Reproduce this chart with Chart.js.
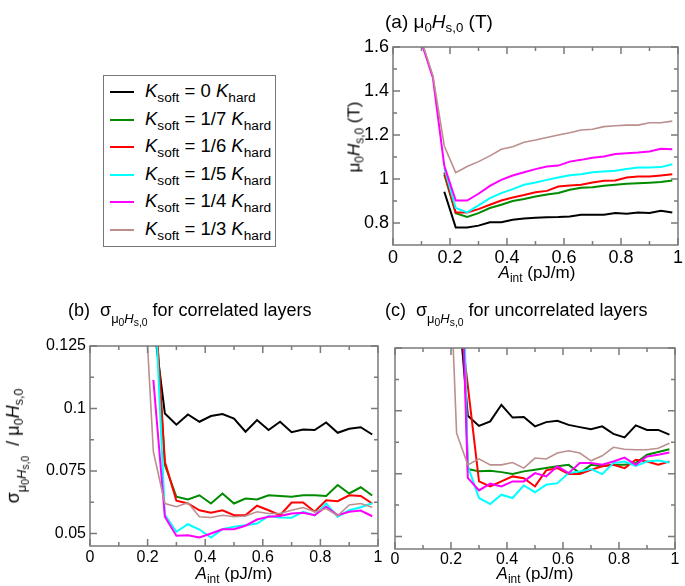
<!DOCTYPE html>
<html>
<head>
<meta charset="utf-8">
<script src="https://cdn.jsdelivr.net/npm/chart.js@4.4.1/dist/chart.umd.min.js"></script>
<style>
    body { margin: 0; background: #fff; font-family: "Liberation Sans", Arial, sans-serif; color: #000; }
    #page { position: relative; width: 685px; height: 586px; overflow: hidden; }
    .panel { position: absolute; }
    .txt { position: absolute; white-space: nowrap; line-height: 1; }
    sub { font-size: 0.7em; vertical-align: -0.3em; line-height: 0; }
    .ssub { font-size: 0.72em; vertical-align: -0.55em; line-height: 0; }
    .ssub sub { font-size: 0.8em; }
    .rot { transform: translate(-50%, -50%) rotate(-90deg); }
    #legend { position: absolute; left: 103px; top: 75px; width: 171px; height: 170px; border: 1px solid #777; }
    .row { position: absolute; left: 0; height: 20px; font-size: 18.5px; white-space: nowrap; }
    .row sub { font-size: 0.74em; vertical-align: -0.4em; }
    .row .swatch { position: absolute; left: 6px; top: 9px; width: 24px; height: 2px; }
    .row .lab { position: absolute; left: 41px; top: 0px; line-height: 1; }
</style>
</head>
<body>
<div id="page">
    <canvas id="chartA" class="panel" width="355" height="300" style="left:330px;top:0px"></canvas>
    <canvas id="chartB" class="panel" width="385" height="266" style="left:0px;top:320px"></canvas>
    <canvas id="chartC" class="panel" width="300" height="266" style="left:385px;top:320px"></canvas>

    <div class="txt" style="left:385px;top:12px;font-size:19px">(a) μ<sub>0</sub><i>H</i><sub>s,0</sub> (T)</div>
    <div class="txt" style="left:68px;top:301px;font-size:18px">(b)&nbsp; σ<span class="ssub">μ<sub>0</sub><i>H</i><sub>s,0</sub></span> for correlated layers</div>
    <div class="txt" style="left:385px;top:301px;font-size:18px">(c)&nbsp; σ<span class="ssub">μ<sub>0</sub><i>H</i><sub>s,0</sub></span> for uncorrelated layers</div>

    <div class="txt rot" style="left:354px;top:137px;font-size:17px">μ<sub>0</sub><i>H</i><sub>s,0</sub> (T)</div>
    <div class="txt rot" style="left:15px;top:446px;font-size:18px">σ<span class="ssub">μ<sub>0</sub><i>H</i><sub>s,0</sub></span>&nbsp; / μ<sub>0</sub><i>H</i><sub>s,0</sub></div>

    <div class="txt" style="left:537px;top:264px;font-size:17px;transform:translateX(-50%)"><i>A</i><sub>int</sub> (pJ/m)</div>
    <div class="txt" style="left:234px;top:565px;font-size:17px;transform:translateX(-50%)"><i>A</i><sub>int</sub> (pJ/m)</div>
    <div class="txt" style="left:535px;top:565px;font-size:17px;transform:translateX(-50%)"><i>A</i><sub>int</sub> (pJ/m)</div>

    <div id="legend"></div>
</div>

<script>
// series (same order in every panel)
const seriesFractions = ['0', '1/7', '1/6', '1/5', '1/4', '1/3'];
const seriesColors = ['#000000', '#008b00', '#ff0000', '#00ffff', '#ff00ff', '#bc8f8f'];

// panel (a): mu0 Hs,0 (T)
const xA = [0.10, 0.14, 0.18, 0.22, 0.26, 0.30, 0.34, 0.38, 0.42, 0.46, 0.50, 0.54,
            0.58, 0.62, 0.66, 0.70, 0.74, 0.78, 0.82, 0.86, 0.90, 0.94, 0.98];
const aBlack = [null, null, 0.942, 0.780, 0.780, 0.788, 0.803, 0.803, 0.815, 0.820, 0.824, 0.826,
                0.827, 0.830, 0.838, 0.838, 0.838, 0.845, 0.842, 0.848, 0.845, 0.856, 0.848];
const aGreen = [null, null, 1.02, 0.845, 0.827, 0.845, 0.868, 0.883, 0.900, 0.909, 0.920, 0.930,
                0.936, 0.951, 0.960, 0.963, 0.969, 0.974, 0.978, 0.981, 0.983, 0.986, 0.993];
const aRed = [null, null, 1.03, 0.848, 0.848, 0.863, 0.883, 0.902, 0.916, 0.927, 0.940, 0.946,
              0.966, 0.970, 0.974, 0.984, 0.992, 0.993, 1.007, 1.011, 1.011, 1.016, 1.022];
const aCyan = [null, null, 1.05, 0.868, 0.848, 0.880, 0.913, 0.936, 0.954, 0.974, 0.984, 0.996,
               1.007, 1.017, 1.022, 1.031, 1.034, 1.038, 1.045, 1.052, 1.052, 1.054, 1.067];
const aMagenta = [1.62, 1.46, 1.06, 0.902, 0.902, 0.933, 0.969, 0.996, 1.016, 1.031, 1.045, 1.057,
                  1.061, 1.079, 1.087, 1.097, 1.102, 1.114, 1.117, 1.120, 1.125, 1.137, 1.135];
const aBrown = [1.63, 1.47, 1.15, 1.029, 1.057, 1.079, 1.105, 1.135, 1.147, 1.167, 1.177, 1.189,
                1.200, 1.210, 1.223, 1.226, 1.238, 1.242, 1.245, 1.245, 1.256, 1.256, 1.263];

// panels (b) and (c): sigma / mu0 Hs,0
const xBC = [0.18, 0.22, 0.26, 0.30, 0.34, 0.38, 0.42, 0.46, 0.50, 0.54, 0.58,
             0.62, 0.66, 0.70, 0.74, 0.78, 0.82, 0.86, 0.90, 0.94, 0.98];
const bBlack = [null, 0.135, 0.098, 0.0935, 0.0976, 0.0947, 0.0970, 0.0978, 0.0960, 0.0907, 0.0954,
                0.0914, 0.0947, 0.0905, 0.0916, 0.0914, 0.0944, 0.0903, 0.0919, 0.0925, 0.0896];
const bGreen = [null, 0.153, 0.0774, 0.0647, 0.0636, 0.0653, 0.0620, 0.0660, 0.0620, 0.0640, 0.0636,
                0.0653, 0.0650, 0.0647, 0.0653, 0.0653, 0.0650, 0.0694, 0.0660, 0.0685, 0.0652];
const bRed = [null, 0.153, 0.0787, 0.0631, 0.0620, 0.0593, 0.0583, 0.0593, 0.0573, 0.0573, 0.0611,
              0.0593, 0.0573, 0.0624, 0.0624, 0.0587, 0.0633, 0.0629, 0.0653, 0.0650, 0.0620];
const bCyan = [null, 0.157, 0.0575, 0.0507, 0.0537, 0.0516, 0.0484, 0.0517, 0.0527, 0.0533, 0.0540,
               0.0570, 0.0564, 0.0563, 0.0587, 0.0573, 0.0620, 0.0567, 0.0593, 0.0605, 0.0621];
const bMagenta = [null, 0.1114, 0.0567, 0.0491, 0.0493, 0.0484, 0.0500, 0.0517, 0.0517, 0.0531, 0.0556,
                  0.0567, 0.0570, 0.0580, 0.0583, 0.0573, 0.0607, 0.0573, 0.0587, 0.0592, 0.0569];
const bBrown = [0.167, 0.0827, 0.0620, 0.0607, 0.0623, 0.0567, 0.0564, 0.0573, 0.0567, 0.0570, 0.0587,
                0.0580, 0.0580, 0.0593, 0.0604, 0.0587, 0.0600, 0.0571, 0.0614, 0.0620, 0.0605];

const cBlack = [null, 0.152, 0.098, 0.0940, 0.0958, 0.1024, 0.0973, 0.0975, 0.0938, 0.0955, 0.0960,
                0.0944, 0.0935, 0.0927, 0.0938, 0.0908, 0.0894, 0.0942, 0.0924, 0.0924, 0.0905];
const cGreen = [null, 0.237, 0.0768, 0.0759, 0.0761, 0.0756, 0.0749, 0.0759, 0.0765, 0.0772, 0.0779,
                0.0785, 0.0752, 0.0785, 0.0779, 0.0785, 0.0785, 0.0792, 0.0825, 0.0836, 0.0847];
const cRed = [null, 0.1475, 0.110, 0.0719, 0.0699, 0.0719, 0.0739, 0.0732, 0.0699, 0.0763, 0.0772,
              0.0749, 0.0749, 0.0765, 0.0779, 0.0785, 0.0772, 0.0805, 0.0798, 0.0785, 0.0798];
const cCyan = [null, 0.266, 0.078, 0.0653, 0.0629, 0.0666, 0.0653, 0.0703, 0.0676, 0.0706, 0.0712,
               0.0752, 0.0759, 0.0768, 0.0748, 0.0792, 0.0798, 0.0781, 0.0798, 0.0802, 0.0794];
const cMagenta = [null, 0.221, 0.0733, 0.0683, 0.0710, 0.0699, 0.0719, 0.0719, 0.0752, 0.0739, 0.0779,
                  0.0752, 0.0792, 0.0792, 0.0785, 0.0798, 0.0814, 0.0785, 0.0818, 0.0825, 0.0834];
const cBrown = [0.204, 0.0911, 0.0785, 0.0809, 0.0785, 0.0785, 0.0794, 0.0772, 0.0812, 0.0808, 0.0832,
                0.0841, 0.0832, 0.0801, 0.0821, 0.0855, 0.0847, 0.0845, 0.0845, 0.0851, 0.0871];

// ticks
const xMajorTicks = [0, 0.2, 0.4, 0.6, 0.8, 1];
const xMinorTicks = [0.1, 0.3, 0.5, 0.7, 0.9];
const yMajorTicksA = [0.8, 1.0, 1.2, 1.4, 1.6];
const yMinorTicksA = [0.9, 1.1, 1.3, 1.5];
const yMajorTicksBC = [0.05, 0.075, 0.1, 0.125];
const yMinorTicksBC = [0.0625, 0.0875, 0.1125];

Chart.defaults.font.family = '"Liberation Sans", Arial, sans-serif';
Chart.defaults.color = '#000';

// frame with inward ticks on all four sides (xmgrace look)
const framePlugin = {
    id: 'frame',
    afterDatasetsDraw(chart, args, opts) {
        const { ctx, chartArea: a, scales } = chart;
        ctx.save();
        ctx.strokeStyle = '#7a7a7a';
        ctx.lineWidth = 1.5;
        ctx.beginPath();
        const xt = (v, len) => {
            const x = scales.x.getPixelForValue(v);
            ctx.moveTo(x, a.bottom); ctx.lineTo(x, a.bottom - len);
            ctx.moveTo(x, a.top); ctx.lineTo(x, a.top + len);
        };
        const yt = (v, len) => {
            const y = scales.y.getPixelForValue(v);
            ctx.moveTo(a.left, y); ctx.lineTo(a.left + len, y);
            ctx.moveTo(a.right, y); ctx.lineTo(a.right - len, y);
        };
        opts.xMajor.forEach(v => xt(v, 7));
        opts.xMinor.forEach(v => xt(v, 4));
        opts.yMajor.forEach(v => yt(v, 7));
        opts.yMinor.forEach(v => yt(v, 4));
        ctx.stroke();
        ctx.strokeRect(a.left, a.top, a.right - a.left, a.bottom - a.top);
        ctx.restore();
    }
};

function fmt(v) {
    return String(+Number(v).toFixed(4));
}

function makeChart(id, xs, seriesList, cfg) {
    const datasets = seriesList.map((vals, i) => ({
        data: vals,
        borderColor: seriesColors[i],
        borderWidth: i === 5 ? 1.6 : 2,
        pointRadius: 0,
        tension: 0,
        fill: false,
        spanGaps: false,
        order: seriesList.length - i
    }));
    return new Chart(document.getElementById(id), {
        type: 'line',
        data: { labels: xs, datasets: datasets },
        options: {
            responsive: false,
            animation: false,
            layout: { padding: { top: cfg.top, right: cfg.right, left: 0, bottom: 0 } },
            plugins: {
                legend: { display: false },
                tooltip: { enabled: false },
                frame: { xMajor: xMajorTicks, xMinor: xMinorTicks, yMajor: cfg.yMajor, yMinor: cfg.yMinor }
            },
            scales: {
                x: {
                    type: 'linear',
                    min: 0, max: 1,
                    grid: { display: false, drawTicks: false },
                    border: { display: false },
                    afterBuildTicks: s => { s.ticks = xMajorTicks.map(v => ({ value: v })); },
                    afterFit: s => { s.height = cfg.xHeight; },
                    ticks: { font: { size: cfg.fontSize }, padding: cfg.xPad, maxRotation: 0, autoSkip: false, callback: fmt }
                },
                y: {
                    min: cfg.yMin, max: cfg.yMax,
                    grid: { display: false, drawTicks: false },
                    border: { display: false },
                    afterBuildTicks: s => { s.ticks = cfg.yMajor.map(v => ({ value: v })); },
                    afterFit: s => { s.width = cfg.yWidth; },
                    ticks: { display: cfg.yLabels, font: { size: cfg.fontSize }, padding: 4, autoSkip: false, callback: fmt }
                }
            }
        },
        plugins: [framePlugin]
    });
}

makeChart('chartA', xA, [aBlack, aGreen, aRed, aCyan, aMagenta, aBrown], {
    top: 47, right: 3, xHeight: 55, yWidth: 63, yMin: 0.7, yMax: 1.6,
    yMajor: yMajorTicksA, yMinor: yMinorTicksA, yLabels: true, fontSize: 18, xPad: 2
});
makeChart('chartB', xBC, [bBlack, bGreen, bRed, bCyan, bMagenta, bBrown], {
    top: 26, right: 7, xHeight: 40, yWidth: 90, yMin: 0.045, yMax: 0.125,
    yMajor: yMajorTicksBC, yMinor: yMinorTicksBC, yLabels: true, fontSize: 16, xPad: 2
});
makeChart('chartC', xBC, [cBlack, cGreen, cRed, cCyan, cMagenta, cBrown], {
    top: 28, right: 10, xHeight: 37, yWidth: 10, yMin: 0.045, yMax: 0.125,
    yMajor: yMajorTicksBC, yMinor: yMinorTicksBC, yLabels: false, fontSize: 16, xPad: 1
});

// legend
const legend = document.getElementById('legend');
seriesFractions.forEach((f, i) => {
    const row = document.createElement('div');
    row.className = 'row';
    row.style.top = (6 + i * 27.6) + 'px';
    row.innerHTML = '<span class="swatch" style="background:' + seriesColors[i] + '"></span>' +
        '<span class="lab"><i>K</i><sub>soft</sub> = ' + f + ' <i>K</i><sub>hard</sub></span>';
    legend.appendChild(row);
});
</script>
</body>
</html>
